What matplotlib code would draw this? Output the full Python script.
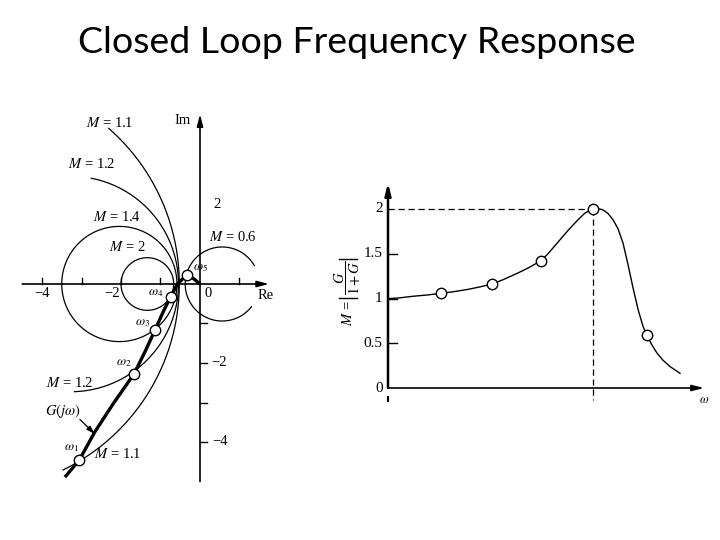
import numpy as np
import matplotlib
matplotlib.use('Agg')
import matplotlib.pyplot as plt
from matplotlib import font_manager
from matplotlib.textpath import TextPath
from matplotlib.font_manager import FontProperties

plt.rcParams['mathtext.fontset'] = 'stix'
plt.rcParams['font.family'] = ['Liberation Serif', 'DejaVu Serif']

# ---------------- data ----------------
title = "Closed Loop Frequency Response"

# M-circles and the arc span drawn for each (degrees)
m_values = [1.1, 1.2, 1.4, 2.0, 0.6]
arc_start = [48.8, 79.0, 0.0, 0.0, 30.0]
arc_end = [-64.0, -88.0, 360.0, 360.0, 322.0]

# G(jw) polar locus (Re, Im)
g_re = [-3.42, -3.055, -2.66, -2.19, -1.671, -1.39, -1.139, -0.93, -0.743, -0.57, -0.338, -0.17, 0.0]
g_im = [-4.89, -4.456, -3.74, -3.02, -2.278, -1.71, -1.165, -0.70, -0.321, 0.0, 0.228, 0.14, 0.0]
g_marker_idx = [1, 4, 6, 8, 10]
omega_labels = [r'$\omega_1$', r'$\omega_2$', r'$\omega_3$', r'$\omega_4$', r'$\omega_5$']

re_ticks = [-4, -3, -2, -1, 1]
im_ticks = [-1, -2, -3, -4]

# closed loop magnitude vs omega
w_vals = [0.0, 0.1, 0.25, 0.4, 0.527, 0.65, 0.79, 0.9, 1.037, 1.15, 1.29, 1.4, 1.527,
          1.6, 1.7, 1.8, 1.9, 1.97, 2.047, 2.10, 2.15, 2.2, 2.25, 2.30, 2.35, 2.40,
          2.45, 2.50, 2.55, 2.587, 2.64, 2.69, 2.75, 2.82, 2.92]
m_vals = [1.0, 1.005, 1.025, 1.04, 1.058, 1.075, 1.10, 1.125, 1.16, 1.21, 1.28, 1.34, 1.42,
          1.50, 1.63, 1.76, 1.88, 1.955, 2.0, 2.005, 1.99, 1.95, 1.88, 1.78, 1.62, 1.38,
          1.12, 0.88, 0.69, 0.59, 0.48, 0.39, 0.31, 0.24, 0.164]
w_markers = [0.527, 1.037, 1.527, 2.047, 2.587]
m_markers = [1.058, 1.16, 1.42, 2.0, 0.59]
m_yticks = [0, 0.5, 1, 1.5, 2]
m_ytick_labels = ['0', '0.5', '1', '1.5', '2']

# ---------------- figure ----------------
W, H = 720, 540
fig = plt.figure(figsize=(7.2, 5.4), dpi=100)

def frac(px_l, px_t, px_r, px_b):
    return [px_l / W, 1 - px_b / H, (px_r - px_l) / W, (px_b - px_t) / H]

# Left: polar plot, 39.5 px per unit, origin at pixel (200, 284)
S = 39.5
ox, oy = 200, 284
L, T, R, B = 15, 100, 300, 495
ax1 = fig.add_axes(frac(L, T, R, B))
ax1.set_xlim((L - ox) / S, (R - ox) / S)
ax1.set_ylim((oy - B) / S, (oy - T) / S)
ax1.axis('off')

arrow_kw = dict(arrowstyle='-|>,head_length=0.7,head_width=0.18', lw=1.2,
                color='black', shrinkA=0, shrinkB=0)
ax1.annotate('', xy=(1.75, 0), xytext=(-4.5, 0), arrowprops=arrow_kw)
ax1.annotate('', xy=(0, 4.3), xytext=(0, -5.0), arrowprops=arrow_kw)
for t in re_ticks:
    ax1.plot([t, t], [0, 0.16], color='black', lw=1.0)
for t in im_ticks:
    ax1.plot([0, 0.17], [t, t], color='black', lw=1.0)

# M circles
for M, a0, a1 in zip(m_values, arc_start, arc_end):
    c = -M**2 / (M**2 - 1)
    r = M / abs(M**2 - 1)
    th = np.radians(np.linspace(a0, a1, 400))
    ax1.plot(c + r * np.cos(th), r * np.sin(th), color='black', lw=0.9)

# G(jw) locus
ax1.plot(g_re, g_im, color='black', lw=2.4, solid_capstyle='butt')
ax1.plot([g_re[i] for i in g_marker_idx], [g_im[i] for i in g_marker_idx], 'o',
         ms=7.5, mfc='white', mec='black', mew=1.0, zorder=5)

tfs = 10.5
def lab(x, y, s, fs=tfs, **kw):
    ax1.text(x, y, s, fontsize=fs, ha='center', va='center', **kw)

lab(-0.43, 4.15, 'Im')
lab(1.65, -0.28, 'Re')
lab(0.2, -0.24, '0')
lab(-4.0, -0.24, '\u22124')
lab(-2.23, -0.24, '\u22122')
lab(0.43, 2.0, '2')
lab(0.48, -1.98, '\u22122')
lab(0.5, -3.98, '\u22124')

lab(-2.28, 4.08, r'$M$ = 1.1')
lab(-2.74, 3.04, r'$M$ = 1.2')
lab(-2.11, 1.70, r'$M$ = 1.4')
lab(-1.84, 0.94, r'$M$ = 2')
lab(0.84, 1.20, r'$M$ = 0.6')
lab(-3.29, -2.51, r'$M$ = 1.2')
lab(-2.07, -4.30, r'$M$ = 1.1')
lab(-3.46, -3.22, r'$G(j\omega)$')
ax1.annotate('', xy=(-2.66, -3.80), xytext=(-3.04, -3.43),
             arrowprops=dict(arrowstyle='-|>,head_length=0.5,head_width=0.15', lw=0.9,
                             color='black', shrinkA=0, shrinkB=0))

omega_pos = [(-3.25, -4.16), (-1.94, -2.01), (-1.45, -0.98), (-1.11, -0.22), (0.02, 0.40)]
for (x, y), s in zip(omega_pos, omega_labels):
    lab(x, y, s, fs=9.5)

# Right: closed loop magnitude, x: 100 px per unit, y: 89.5 px per unit, origin (388, 388)
sx, sy = 100.0, 89.5
ox2, oy2 = 388, 388
L2, T2, R2, B2 = 330, 175, 715, 412
ax2 = fig.add_axes(frac(L2, T2, R2, B2))
ax2.set_xlim((L2 - ox2) / sx, (R2 - ox2) / sx)
ax2.set_ylim((oy2 - B2) / sy, (oy2 - T2) / sy)
ax2.axis('off')

arrow2 = dict(arrowstyle='-|>,head_length=0.7,head_width=0.18', lw=1.8,
              color='black', shrinkA=0, shrinkB=0)
ax2.annotate('', xy=(0, 2.29), xytext=(0, 0), arrowprops=arrow2)
arrow2b = dict(arrow2)
arrow2b['lw'] = 1.2
ax2.annotate('', xy=(3.16, 0), xytext=(0, 0), arrowprops=arrow2b)
ax2.plot([0, 0], [-0.10, -0.15], color='black', lw=1.5)

for v, s in zip(m_yticks, m_ytick_labels):
    if v not in (0, 2):
        ax2.plot([0, 0.085], [v, v], color='black', lw=1.0)
    ax2.text(-0.055, v, s, fontsize=11, ha='right', va='center')

ax2.plot([0, w_markers[3]], [2, 2], color='black', lw=0.9, dashes=(5, 3))
ax2.plot([w_markers[3], w_markers[3]], [2, -0.135], color='black', lw=0.9, dashes=(5, 3))

ax2.plot(w_vals, m_vals, color='black', lw=1.0)
ax2.plot(w_markers, m_markers, 'o', ms=7.5, mfc='white', mec='black', mew=1.0, zorder=5)

ax2.text(3.16, -0.135, r'$\omega$', fontsize=9, ha='center', va='center')

# y label  M = |G / (1+G)|  (rotated), with thin absolute-value bars
ax2.text(-0.40, 0.84, r'$M$ =', fontsize=10.5, rotation=90, ha='center', va='center')
ax2.text(-0.40, 1.225, r'$\dfrac{G}{1+G}$', fontsize=10.5, rotation=90, ha='center', va='center')
for yb in (1.005, 1.445):
    ax2.plot([-0.49, -0.31], [yb, yb], color='black', lw=1.0)

# Title in a Calibri-like humanist sans, sized mostly to the reference width
target_cap_px = 22.5
target_w_px = 587.0
fam = 'DejaVu Sans'
for cand in ['Lato', 'Open Sans', 'Noto Sans']:
    try:
        font_manager.findfont(FontProperties(family=cand), fallback_to_default=False)
        fam = cand
        break
    except Exception:
        continue
fp = FontProperties(family=fam)
cap = TextPath((0, 0), 'H', size=100, prop=fp).get_extents().height / 100.0
fs_cap = target_cap_px * 72.0 / 100.0 / cap
wid = TextPath((0, 0), title, size=fs_cap, prop=fp).get_extents().width * 100.0 / 72.0
fs_title = fs_cap * (target_w_px / wid) ** 0.75
fig.text(0.5 - 3.5 / W, 1 - 53.3 / H, title, fontsize=fs_title, ha='center', va='baseline',
         family=[fam, 'DejaVu Sans'])

fig.savefig('out.png', dpi=100)
